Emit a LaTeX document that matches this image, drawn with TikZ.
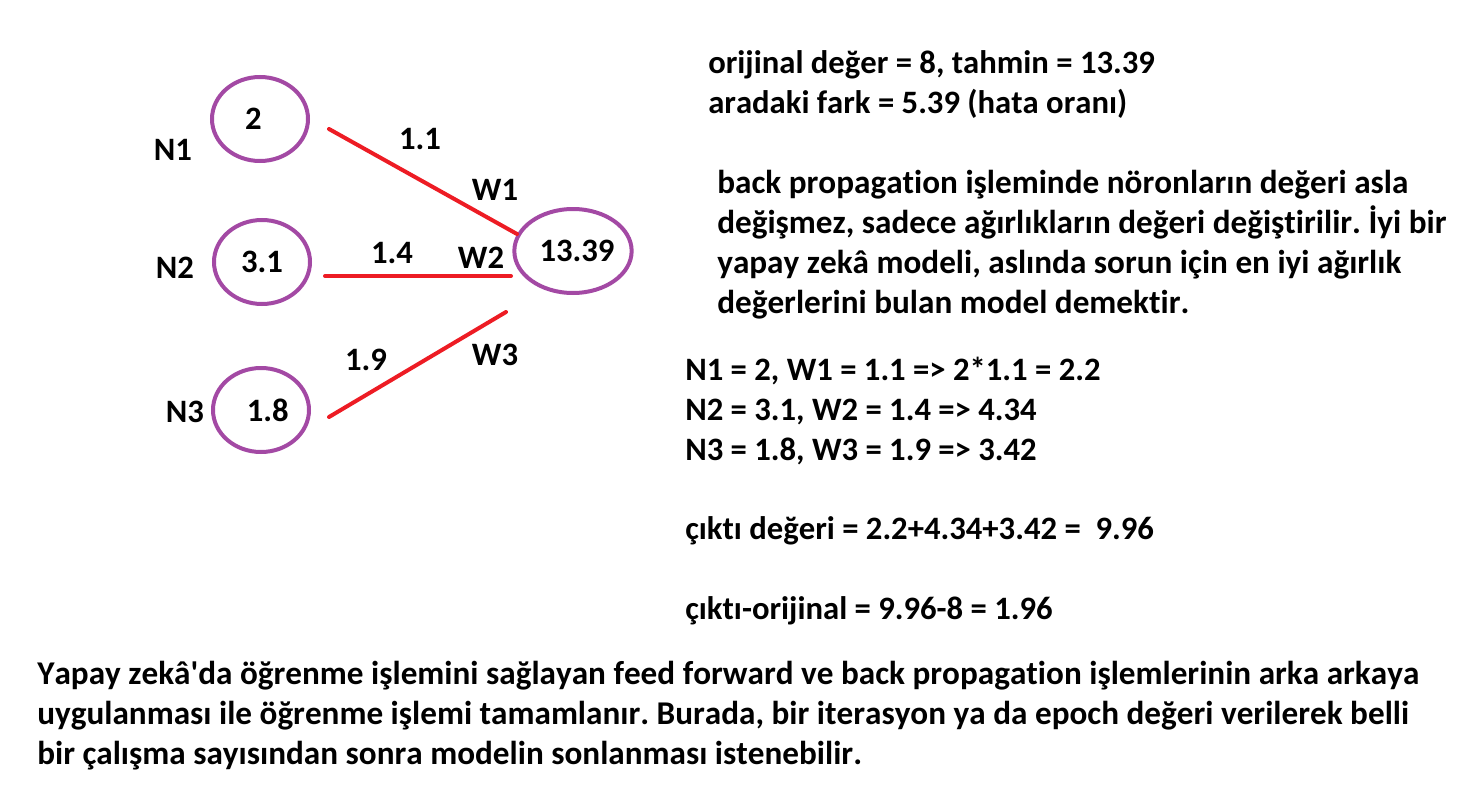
\documentclass[tikz,border=0pt]{standalone}
\usepackage{fontspec}
\setmainfont{Carlito}[Ligatures=NoCommon, Kerning=Off]
\usepackage{tikz}
\usetikzlibrary{shapes.geometric}
\definecolor{neuronpurple}{HTML}{A349A4}
\definecolor{weightred}{HTML}{ED1C24}
\frenchspacing

\begin{document}
\begin{tikzpicture}[
    x=0.75pt, y=-0.75pt,
    neuron/.style={ellipse, draw=neuronpurple, line width=3pt, minimum width=72pt, minimum height=63pt, inner sep=0pt, font=\bfseries\fontsize{24.5}{29}\selectfont},
    weight/.style={draw=weightred, line width=3pt, line cap=round},
    lbl/.style={font=\bfseries\fontsize{24.5}{29}\selectfont, inner sep=0pt},
    txt/.style={font=\bfseries\fontsize{24.5}{30}\selectfont, anchor=west, align=left, inner sep=0pt},
    bigtxt/.style={txt, font=\bfseries\fontsize{24.9}{30}\selectfont},
]
\useasboundingbox (0,0) rectangle (1461,799);

% Neurons
\node[neuron] (n1) at (260,119) {2\hspace*{10pt}};
\node[neuron] (n2) at (262,262) {3.1};
\node[neuron] (n3) at (261,410) {\hspace*{10pt}1.8};
\node[neuron] (out) at (573,251) {\hspace*{6pt}13.39};

% Neuron names
\node[lbl] (n1name) at (173,150) {N1};
\node[lbl] (n2name) at (175,268) {N2};
\node[lbl] (n3name) at (185,412) {N3};

% Weights
\coordinate (w1s) at (329,129); \coordinate (w1e) at (517,234);
\coordinate (w2s) at (325,276); \coordinate (w2e) at (511,276);
\coordinate (w3s) at (329,417); \coordinate (w3e) at (506,312);
\draw[weight] (w1s) -- (w1e);
\draw[weight] (w2s) -- (w2e);
\draw[weight] (w3s) -- (w3e);

\foreach \name/\val/\xpos/\ypos in {
  w1val/1.1/420/139, w1lbl/W1/495/190,
  w2val/1.4/392/253, w2lbl/W2/481/258,
  w3val/1.9/366/360, w3lbl/W3/495/355
}{
  \node[lbl] (\name) at (\xpos,\ypos) {\val};
}

% Error
\node[txt] (err) at (708,85) {orijinal değer = 8, tahmin = 13.39\\aradaki fark = 5.39 (hata oranı)};

% Note on back propagation
\node[bigtxt] (note) at (717,245) {back propagation işleminde nöronların değeri asla\\
değişmez, sadece ağırlıkların değeri değiştirilir. İyi bir\\
yapay zekâ modeli, aslında sorun için en iyi ağırlık\\
değerlerini bulan model demektir.};

% Products
\node[txt] (prod) at (685,411) {N1 = 2, W1 = 1.1 => 2*1.1 = 2.2\\
N2 = 3.1, W2 = 1.4 => 4.34\\
N3 = 1.8, W3 = 1.9 => 3.42};
\node[txt] (sum) at (685,531) {çıktı değeri = 2.2+4.34+3.42 = \ 9.96};
\node[txt] (diff) at (685,611) {çıktı-orijinal = 9.96-8 = 1.96};

% Summary
\node[bigtxt] (summary) at (37,716) {Yapay zekâ\textquotesingle da öğrenme işlemini sağlayan feed forward ve back propagation işlemlerinin arka arkaya\\
uygulanması ile öğrenme işlemi tamamlanır. Burada, bir iterasyon ya da epoch değeri verilerek belli\\
bir çalışma sayısından sonra modelin sonlanması istenebilir.};

\end{tikzpicture}
\end{document}
